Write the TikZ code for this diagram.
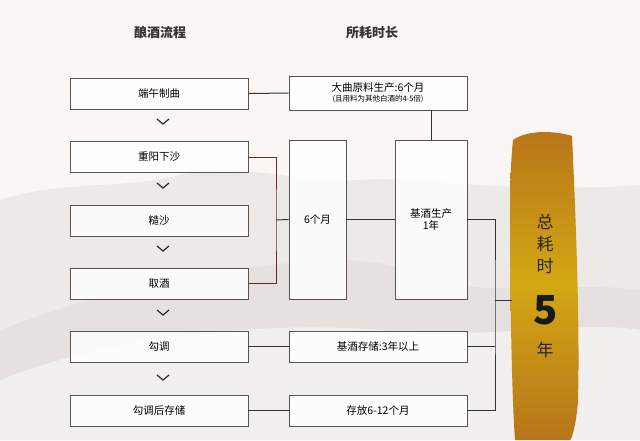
\documentclass[tikz,border=0pt]{standalone}
\usepackage{fontspec}
\setmainfont{Noto Sans CJK SC}
\definecolor{bg}{HTML}{F9F6F4}
\definecolor{mtn}{HTML}{EDE9E6}
\definecolor{mtn2}{HTML}{E2DDDA}
\definecolor{gold}{HTML}{D2A814}
\definecolor{goldd}{HTML}{B8741A}
\definecolor{edge}{HTML}{555555}
\definecolor{redl}{HTML}{6A2A22}
\begin{document}
\begin{tikzpicture}[x=1pt,y=-1pt,
  box/.style={draw=edge,line width=0.8pt,fill=white,fill opacity=0.85,text opacity=1,font=\fontsize{10.5}{12.5}\selectfont,inner sep=0pt},
  conn/.style={draw=black!80,line width=1pt},
  redc/.style={draw=redl,line width=1pt},
  chev/.style={draw=black!85,line width=1.2pt},
  vt/.style={font=\fontsize{17}{19}\selectfont,text=black!85},
  hdr/.style={font=\fontsize{13}{15}\selectfont\bfseries,text=black!80}]
\fill[bg] (0,0) rectangle (640,440);
\useasboundingbox (0,0) rectangle (640,440);
% mountains
\fill[mtn] (0,200) .. controls (60,180) and (120,190) .. (180,175) .. controls (240,160) and (300,185) .. (360,180) .. controls (420,175) and (500,195) .. (640,185) -- (640,440) -- (0,440) -- cycle;
\fill[mtn2,opacity=0.6] (0,330) .. controls (80,300) and (150,280) .. (230,270) .. controls (300,262) and (360,250) .. (420,275) .. controls (480,300) and (560,280) .. (640,290) -- (640,440) -- (0,440) -- cycle;
\fill[white,opacity=0.5] (0,380) .. controls (100,340) and (250,320) .. (380,330) .. controls (500,340) and (580,320) .. (640,330) -- (640,440) -- (0,440) -- cycle;
% headers
\node[hdr] (h1) at (160,33) {酿酒流程};
\node[hdr] (h2) at (372,33) {所耗时长};
% left column
\node[box,minimum width=178pt,minimum height=31pt] (a1) at (159,93.5) {端午制曲};
\node[box,minimum width=178pt,minimum height=31pt] (a2) at (159,157) {重阳下沙};
\node[box,minimum width=178pt,minimum height=31pt] (a3) at (159,220.5) {糙沙};
\node[box,minimum width=178pt,minimum height=31pt] (a4) at (159,283.5) {取酒};
\node[box,minimum width=178pt,minimum height=31pt] (a5) at (159,346.5) {勾调};
\node[box,minimum width=178pt,minimum height=31pt] (a6) at (159,410.5) {勾调后存储};
\foreach \yy in {122,186,249,313,378}
  \draw[chev] (157,\yy-3) -- (163,\yy+2) -- (169,\yy-3);
% middle
\node[box,minimum width=178pt,minimum height=34pt,align=center] (b1) at (378,93) {大曲原料生产:6个月\\[-3pt]{\fontsize{7.5}{8}\selectfont (且用料为其他白酒的4-5倍)}};
\node[box,minimum width=57pt,minimum height=159pt] (b2) at (317.5,219.5) {6个月};
\node[box,minimum width=72pt,minimum height=159pt,align=center] (b3) at (431,219.5) {基酒生产\\1年};
\node[box,minimum width=178pt,minimum height=31pt] (b4) at (378,346.5) {基酒存储:3年以上};
\node[box,minimum width=178pt,minimum height=31pt] (b5) at (378,410.5) {存放6-12个月};
% brush
\shade[top color=goldd,bottom color=goldd,middle color=gold]
 (513,140) .. controls (530,128) and (560,132) .. (572,136) .. controls (576,220) and (580,330) .. (578,400)
 .. controls (577,420) and (572,440) .. (570,440) -- (515,440) .. controls (512,400) and (510,300) .. (510,220)
 .. controls (510,180) and (511,160) .. (513,140) -- cycle;
\node[vt] (t1) at (545,222) {总};
\node[vt] (t1b) at (545,244) {耗};
\node[vt] (t1c) at (545,266) {时};
\node[font=\fontsize{40}{40}\selectfont\bfseries,text=black!90] (t2) at (546,310) {5};
\node[vt] (t3) at (545,350) {年};
\coordinate (br) at (512,300);
\coordinate (jx) at (495,300);
% connectors
\draw[conn] (a1.east) -- (b1.west);
\draw[conn] (b1.south -| b3) -- (b3.north);
\draw[redc] (a2.east) -| (276,220) |- (a4.east);
\draw[conn] (276,220) -- (b2.west);
\draw[conn] (b2.east) -- (b3.west);
\draw[conn] (a5.east) -- (b4.west);
\draw[conn] (a6.east) -- (b5.west);
\draw[conn] (b3.east) -| (jx) |- (b5.east);
\draw[conn] (b4.east) -- (b4.east -| jx);
\draw[conn] (jx) -- (br);
\end{tikzpicture}
\end{document}
